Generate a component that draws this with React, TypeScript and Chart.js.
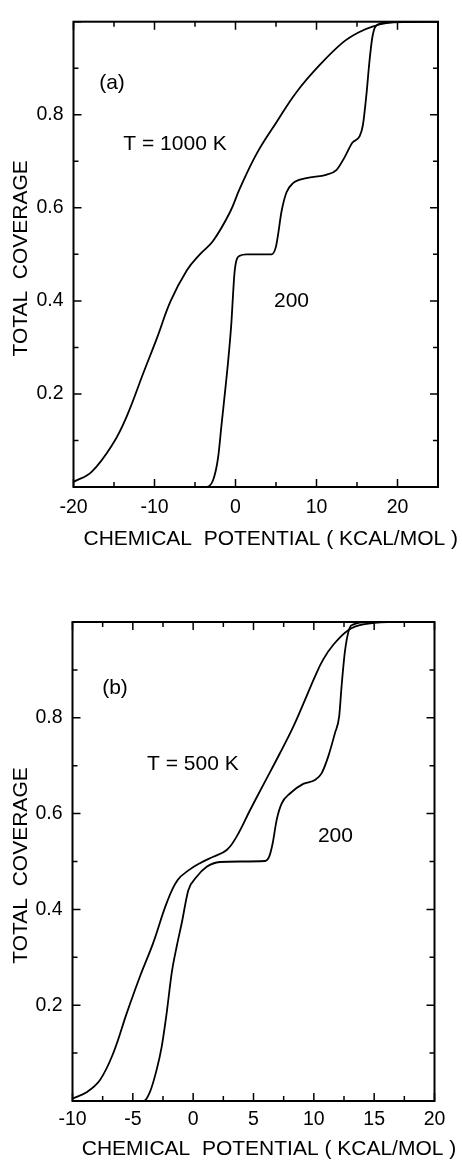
import React, { useEffect, useRef } from "react";
import { Chart, registerables } from "chart.js";

Chart.register(...registerables);

// ---------------- data ----------------
// Panel (a): T = 1000 K and T = 200 K
const A_T1000_X = [-20, -17.8, -15.1, -13.4, -11.4, -9.7, -8.0, -6.0, -4.4, -2.8, -0.7, 0.5, 2.6, 5.1, 7.5, 10.4, 13.3, 15.3, 17.0, 18.6, 20.3, 25];
const A_T1000_Y = [0.011, 0.032, 0.094, 0.153, 0.244, 0.32, 0.40, 0.466, 0.50, 0.528, 0.59, 0.64, 0.716, 0.785, 0.848, 0.907, 0.956, 0.978, 0.99, 0.997, 1.0, 1.0];

const A_T200_X = [-4, -3.6, -2.76, -2.15, -1.73, -1.32, -0.91, -0.5, -0.3, -0.09, 0.53, 1.36, 4.44, 4.97, 5.25, 5.67, 6.29, 7.1, 8.75, 11.2, 12.45, 13.48, 14.42, 15.33, 15.73, 16.15, 16.55, 16.89, 17.3, 18.5, 25];
const A_T200_Y = [0, 0, 0.015, 0.063, 0.133, 0.2, 0.27, 0.355, 0.415, 0.466, 0.497, 0.5, 0.5, 0.515, 0.542, 0.591, 0.633, 0.653, 0.664, 0.671, 0.681, 0.709, 0.74, 0.754, 0.778, 0.841, 0.917, 0.966, 0.99, 0.998, 1.0];

// Panel (b): T = 500 K and T = 200 K
const B_T500_X = [-10, -8.8, -7.72, -6.62, -5.51, -4.41, -3.31, -2.2, -1.3, -0.3, 0.6, 1.67, 2.78, 3.6, 4.71, 5.81, 7.19, 8.29, 9.26, 10.09, 10.78, 11.6, 12.85, 14.09, 16.5, 20];
const B_T500_Y = [0.005, 0.019, 0.044, 0.1, 0.183, 0.26, 0.33, 0.413, 0.461, 0.483, 0.497, 0.51, 0.524, 0.552, 0.607, 0.66, 0.726, 0.781, 0.837, 0.886, 0.922, 0.952, 0.983, 0.995, 1.0, 1.0];

const B_T200_X = [-4.4, -4.1, -3.58, -3.03, -2.61, -2.2, -1.78, -1.37, -0.95, -0.4, 0.29, 1.12, 2.22, 3.88, 5.95, 6.3, 6.59, 6.92, 7.33, 8.02, 9.12, 10.09, 10.64, 11.19, 11.75, 12.1, 12.3, 12.58, 12.94, 13.3, 14.5, 20];
const B_T200_Y = [0, 0, 0.019, 0.065, 0.113, 0.183, 0.267, 0.322, 0.371, 0.44, 0.468, 0.489, 0.499, 0.5, 0.501, 0.51, 0.538, 0.587, 0.621, 0.642, 0.662, 0.67, 0.684, 0.719, 0.768, 0.803, 0.866, 0.939, 0.986, 0.995, 1.0, 1.0];

// axis ranges / ticks
const A_X_RANGE = [-20, 25];
const A_X_MINOR = 5;
const A_X_MAJOR = 10;
const B_X_RANGE = [-10, 20];
const B_X_MINOR = 2.5;
const B_X_MAJOR = 5;
const Y_RANGE = [0, 1];
const Y_MINOR = 0.1;
const Y_LABELS = [0.2, 0.4, 0.6, 0.8];

// annotations (text, data x, data y)
const A_NOTE_TEXT = ["(a)", "T = 1000 K", "200"];
const A_NOTE_X = [-15.25, -7.47, 6.91];
const A_NOTE_Y = [0.871, 0.74, 0.404];
const B_NOTE_TEXT = ["(b)", "T = 500 K", "200"];
const B_NOTE_X = [-6.48, -0.02, 11.79];
const B_NOTE_Y = [0.866, 0.706, 0.557];

const X_TITLE = "CHEMICAL  POTENTIAL ( KCAL/MOL )";
const Y_TITLE = "TOTAL  COVERAGE";

// ---------------- layout ----------------
const W = 462;
const H = 583;
const FONT = "'Liberation Sans', Arial, Helvetica, sans-serif";

type Panel = {
  xRange: number[];
  xMinor: number;
  xMajor: number;
  series: { xs: number[]; ys: number[]; smooth: boolean }[];
  notes: { text: string[]; x: number[]; y: number[] };
  area: { left: number; right: number; top: number; bottom: number };
  tickPad: number;
  titleBaseline: number;
  titleShift: number;
  yTitleX: number;
};

const PANEL_A: Panel = {
  xRange: A_X_RANGE,
  xMinor: A_X_MINOR,
  xMajor: A_X_MAJOR,
  series: [
    { xs: A_T1000_X, ys: A_T1000_Y, smooth: true },
    { xs: A_T200_X, ys: A_T200_Y, smooth: false },
  ],
  notes: { text: A_NOTE_TEXT, x: A_NOTE_X, y: A_NOTE_Y },
  area: { left: 73.5, right: 438, top: 7, bottom: 487 },
  tickPad: 9,
  titleBaseline: 545,
  titleShift: 15,
  yTitleX: 19,
};

const PANEL_B: Panel = {
  xRange: B_X_RANGE,
  xMinor: B_X_MINOR,
  xMajor: B_X_MAJOR,
  series: [
    { xs: B_T500_X, ys: B_T500_Y, smooth: true },
    { xs: B_T200_X, ys: B_T200_Y, smooth: false },
  ],
  notes: { text: B_NOTE_TEXT, x: B_NOTE_X, y: B_NOTE_Y },
  area: { left: 72.5, right: 434.5, top: 39, bottom: 518 },
  tickPad: 7,
  titleBaseline: 572,
  titleShift: 15.5,
  yTitleX: 19,
};

const isMult = (v: number, step: number) =>
  Math.abs(v / step - Math.round(v / step)) < 1e-6;

function PanelChart({ panel }: { panel: Panel }) {
  const ref = useRef<HTMLCanvasElement>(null);

  useEffect(() => {
    const p = panel;
    const framePlugin = {
      id: "frame",
      afterDraw(chart: any) {
        const { ctx, chartArea: a, scales } = chart;
        const xs = scales.x;
        const ys = scales.y;
        ctx.save();
        ctx.strokeStyle = "#000";
        ctx.lineWidth = 2;
        ctx.strokeRect(a.left, a.top, a.right - a.left, a.bottom - a.top);
        ctx.lineWidth = 1.5;
        ctx.beginPath();
        for (const t of xs.ticks) {
          const px = xs.getPixelForValue(t.value);
          const len = isMult(t.value, p.xMajor) ? 8 : 5;
          ctx.moveTo(px, a.bottom);
          ctx.lineTo(px, a.bottom - len);
          ctx.moveTo(px, a.top);
          ctx.lineTo(px, a.top + len);
        }
        for (const t of ys.ticks) {
          const py = ys.getPixelForValue(t.value);
          const len = isMult(t.value, 0.2) ? 8 : 5;
          ctx.moveTo(a.left, py);
          ctx.lineTo(a.left + len, py);
          ctx.moveTo(a.right, py);
          ctx.lineTo(a.right - len, py);
        }
        ctx.stroke();

        ctx.fillStyle = "#000";
        ctx.textAlign = "center";
        ctx.textBaseline = "alphabetic";
        const fs = 21;
        ctx.font = `${fs}px ${FONT}`;
        const capOff = fs * 0.358;
        p.notes.text.forEach((txt, i) => {
          ctx.fillText(
            txt,
            xs.getPixelForValue(p.notes.x[i]),
            ys.getPixelForValue(p.notes.y[i]) + capOff
          );
        });
        ctx.fillText(X_TITLE, (a.left + a.right) / 2 + p.titleShift, p.titleBaseline);
        ctx.translate(p.yTitleX, (a.top + a.bottom) / 2 + 4);
        ctx.rotate(-Math.PI / 2);
        ctx.fillText(Y_TITLE, 0, capOff);
        ctx.restore();
      },
    };

    const chart = new Chart(ref.current as HTMLCanvasElement, {
      type: "line",
      data: {
        datasets: p.series.map((s) => ({
          data: s.xs.map((x, i) => ({ x, y: s.ys[i] })),
          borderColor: "#000",
          borderWidth: 1.8,
          pointRadius: 0,
          fill: false,
          tension: s.smooth ? 0.4 : 0,
          cubicInterpolationMode: s.smooth ? ("default" as const) : ("monotone" as const),
        })),
      },
      options: {
        responsive: false,
        animation: false,
        events: [],
        layout: {
          autoPadding: false,
          padding: { top: p.area.top, right: W - p.area.right, left: 0, bottom: 0 },
        },
        plugins: {
          legend: { display: false },
          tooltip: { enabled: false },
          title: { display: false },
        },
        scales: {
          x: {
            type: "linear",
            min: p.xRange[0],
            max: p.xRange[1],
            grid: { display: false, drawTicks: false },
            border: { display: false },
            afterFit: (s: any) => {
              s.height = H - p.area.bottom;
            },
            ticks: {
              stepSize: p.xMinor,
              autoSkip: false,
              maxRotation: 0,
              padding: p.tickPad,
              color: "#000",
              font: { family: FONT, size: 19.5 },
              callback: (v: any) => (isMult(Number(v), p.xMajor) ? String(v) : ""),
            },
          },
          y: {
            type: "linear",
            min: Y_RANGE[0],
            max: Y_RANGE[1],
            grid: { display: false, drawTicks: false },
            border: { display: false },
            afterFit: (s: any) => {
              s.width = p.area.left;
            },
            ticks: {
              stepSize: Y_MINOR,
              autoSkip: false,
              padding: 10,
              color: "#000",
              font: { family: FONT, size: 19.5 },
              callback: (v: any) => {
                const n = Number(v);
                const hit = Y_LABELS.find((l) => Math.abs(l - n) < 1e-6);
                return hit !== undefined ? hit.toFixed(1) : "";
              },
            },
          },
        },
      },
      plugins: [framePlugin],
    } as any);
    return () => chart.destroy();
  }, [panel]);

  return (
    <canvas
      ref={ref}
      width={W}
      height={H}
      style={{ display: "block", width: W, height: H }}
    />
  );
}

export default function App() {
  return (
    <div style={{ position: "absolute", left: 0, top: 0, width: W, background: "#fff" }}>
      <PanelChart panel={PANEL_A} />
      <PanelChart panel={PANEL_B} />
    </div>
  );
}
